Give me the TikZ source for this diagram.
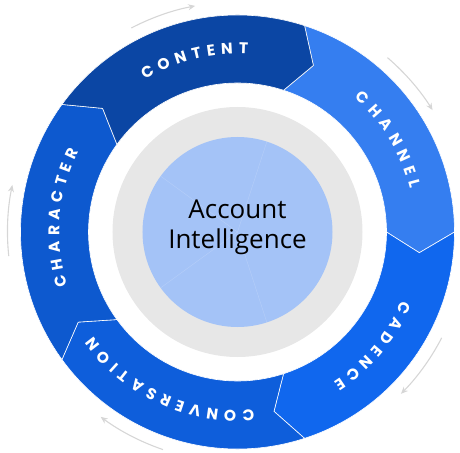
\documentclass[tikz,border=0pt]{standalone}
\usepackage{fontspec}
\setmainfont{Open Sans}
\newfontfamily\ringfont{Poppins}
\usepackage{tikz}
\usetikzlibrary{arrows.meta, decorations.text}
\definecolor{contentblue}{HTML}{0B46A4}
\definecolor{channelblue}{HTML}{357EF0}
\definecolor{cadenceblue}{HTML}{1067EE}
\definecolor{convblue}{HTML}{0E5EDB}
\definecolor{charblue}{HTML}{0D59CF}
\definecolor{ringgrey}{HTML}{E7E7E7}
\definecolor{hubblue}{HTML}{A4C3F7}
\definecolor{arrowgrey}{HTML}{D6D6D6}
\newcommand{\labelfmt}{\ringfont\bfseries\fontsize{15.5}{16}\selectfont\color{white}}
% one chevron piece of the ring, starting at angle #1 and running 72 degrees clockwise
\newcommand{\segpath}[1]{(#1:217pt) arc[start angle=#1, end angle=#1-72, radius=217pt]
  -- (#1-78.5:183pt) -- (#1-72:149pt) arc[start angle=#1-72, end angle=#1, radius=149pt]
  -- (#1-6.5:183pt) -- cycle}

\begin{document}
\begin{tikzpicture}[
    segment/.style={draw=white, line width=0.6pt, line join=miter},
    cyclearrow/.style={-{Stealth[length=7pt, width=6pt]}, line width=1.1pt, draw=arrowgrey},
    hubtext/.style={align=center, font=\fontsize{26}{30}\selectfont, text=black}
]
    \useasboundingbox (-237.5pt,-220pt) rectangle (222.5pt,232pt);

    % Ring
    \foreach \a/\col in {72/channelblue, 0/cadenceblue, -72/convblue, -144/charblue}
        \filldraw[segment, fill=\col] \segpath{\a};
    \foreach \s in {1,...,4}
        \fill[black, opacity=0.05] ([yshift=-\s*0.6pt]0,0) ++(0,0) \segpath{144};
    \filldraw[segment, fill=contentblue] \segpath{144};

    % Labels
    \foreach \c/\n/\word in {104/7/CONTENT, 31.5/7/CHANNEL, -40/7/CADENCE, -114.5/12/CONVERSATION, 175.3/9/CHARACTER}
        \path[decorate, decoration={text along path, text align=fit to path,
              text/.expanded={|\noexpand\labelfmt|\word}}]
            (\c+\n*2.48:178pt) arc[start angle=\c+\n*2.48, end angle=\c-\n*2.48, radius=178pt];

    % Hub
    \fill[ringgrey] (0,0) circle[radius=125pt];
    \fill[hubblue] (0,0) circle[radius=95pt];
    \foreach \a in {72,144,216,288}
        \draw[white, opacity=0.2, line width=0.4pt] (0,0) -- (\a:95pt);
    \node[hubtext] (hub) at (0,5pt) {Account\\Intelligence};

    % Cycle arrows
    \foreach \s/\e in {117.5/100.6, 49.3/32, -27.4/-44.7, -108.9/-126.5, 186/168.2}
        \draw[cyclearrow] (\s:230pt) arc[start angle=\s, end angle=\e, radius=230pt];
\end{tikzpicture}
\end{document}
